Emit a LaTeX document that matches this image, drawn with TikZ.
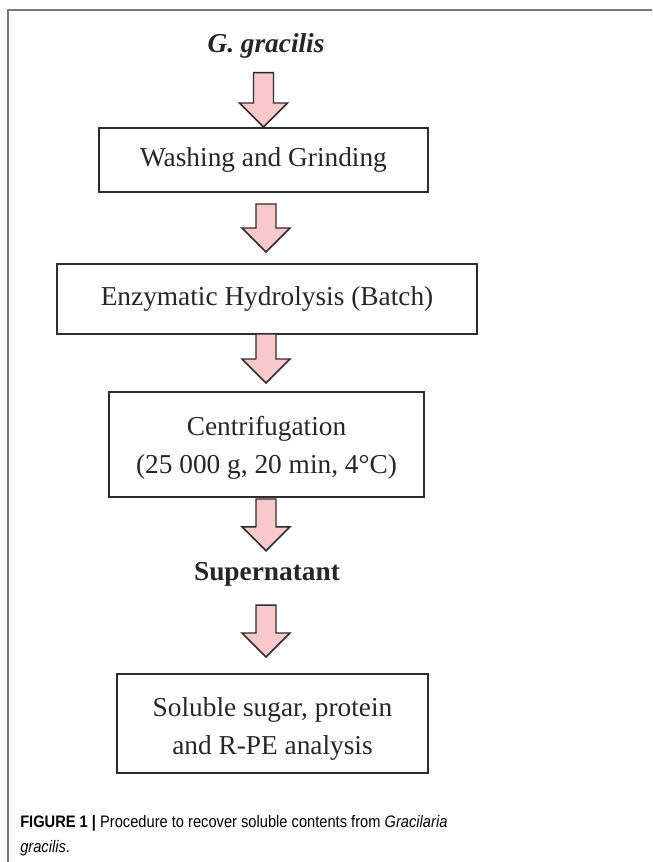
\documentclass[tikz,border=0pt]{standalone}
\usepackage{fontspec}
\setmainfont{Liberation Serif}
\newfontfamily\capfont[FakeStretch=0.88]{Liberation Sans}
\usetikzlibrary{calc}

\definecolor{arrowpink}{RGB}{248,200,202}
\definecolor{linegray}{RGB}{45,45,45}
\definecolor{framegray}{RGB}{120,120,120}

\tikzset{
  stepbox/.style={draw=linegray, line width=1.5pt, align=center, inner sep=0pt,
    text=black!85, font=\fontsize{20.5}{28.5}\selectfont},
  steptext/.style={inner sep=0pt, text=black!85, font=\fontsize{20.5}{24}\selectfont\bfseries},
  flowarrow/.style={draw=linegray, fill=arrowpink, line width=1.1pt, line join=miter},
}

% block arrow: #1 gives the top of the shaft, #2 the tip
\newcommand{\pinkarrow}[2]{%
  \draw[flowarrow] let \p1=(#1), \p2=(#2) in
    (\x2-7.5pt,\y1) -- (\x2+7.5pt,\y1) -- (\x2+7.5pt,\y2+18pt)
    -- (\x2+18pt,\y2+18pt) -- (\x2,\y2) -- (\x2-18pt,\y2+18pt)
    -- (\x2-7.5pt,\y2+18pt) -- cycle;}

\begin{document}
\begin{tikzpicture}[x=0.75pt,y=-0.75pt]
  \useasboundingbox (0,0) rectangle (652,862);
  % frame
  \draw[framegray, line width=0.8pt] (8,862) -- (8,10) -- (652,10);
%
  % steps
  \node[steptext, font=\fontsize{20.5}{24}\selectfont\bfseries\itshape] (gg) at (266,46) {G. gracilis};
  \node[stepbox, minimum width=246.75pt, minimum height=48pt] (wash) at (263.5,160) {Washing and Grinding};
  \node[stepbox, minimum width=315pt, minimum height=52.5pt] (enz) at (267,299) {Enzymatic Hydrolysis (Batch)};
  \node[stepbox, minimum width=236.25pt, minimum height=78.75pt] (cent) at (266.5,444.5) {\rule{0pt}{0.98em}Centrifugation\\(25 000 g, 20 min, 4°C)};
  \node[steptext] (sup) at (267,574) {Supernatant};
  \node[stepbox, minimum width=233.25pt, minimum height=74.25pt] (anal) at (272.5,723.5) {\rule{0pt}{1.12em}Soluble sugar, protein\\and R-PE analysis};
%
  % arrows
  \pinkarrow{$(gg.base)+(0,20)$}{wash.north};
  \pinkarrow{$(wash.south)+(0,11)$}{$(enz.north)+(-1,-11)$};
  \pinkarrow{$(enz.south)+(0,-1)$}{$(cent.north)+(-0.5,-8)$};
  \pinkarrow{$(cent.south)+(0,1)$}{$(sup.north)+(-1,-11)$};
  \pinkarrow{$(sup.base)+(0,25)$}{$(anal.north)+(-6.5,-16)$};
%
  % caption
  \node[anchor=north west, align=left, inner sep=0pt, font=\capfont\fontsize{12.5}{18.75}\selectfont] (cap) at (20,815)
    {\textbf{FIGURE 1 |} Procedure to recover soluble contents from \textit{Gracilaria}\\\textit{gracilis}.};
\end{tikzpicture}
\end{document}
